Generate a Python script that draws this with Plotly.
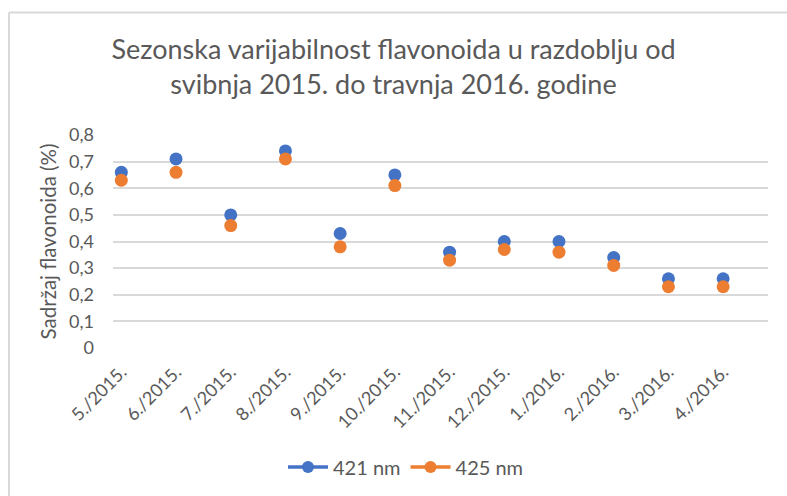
import plotly.graph_objects as go

months = ["5./2015.", "6./2015.", "7./2015.", "8./2015.", "9./2015.", "10./2015.",
          "11./2015.", "12./2015.", "1./2016.", "2./2016.", "3./2016.", "4./2016."]
nm421 = [0.66, 0.71, 0.50, 0.74, 0.43, 0.65, 0.36, 0.40, 0.40, 0.34, 0.26, 0.26]
nm425 = [0.63, 0.66, 0.46, 0.71, 0.38, 0.61, 0.33, 0.37, 0.36, 0.31, 0.23, 0.23]
y_ticks = [0, 0.1, 0.2, 0.3, 0.4, 0.5, 0.6, 0.7, 0.8]
y_tick_text = ["0", "0,1", "0,2", "0,3", "0,4", "0,5", "0,6", "0,7", "0,8"]

BLUE = "#4472C4"
ORANGE = "#ED7D31"
TXT = "#595959"
GRID = "#D9D9D9"
FONT = "Lato"

idx = list(range(len(months)))

fig = go.Figure()
for name, vals, col in [("421 nm", nm421, BLUE), ("425 nm", nm425, ORANGE)]:
    fig.add_trace(go.Scatter(x=idx, y=vals, mode="markers", name=name,
                             legendgroup=name, showlegend=False,
                             marker=dict(color=col, size=13, line=dict(width=0))))
for name, col in [("421 nm", BLUE), ("425 nm", ORANGE)]:
    fig.add_trace(go.Scatter(x=[None], y=[None], mode="lines+markers", name=name,
                             legendgroup=name, showlegend=True,
                             line=dict(color=col, width=3.5),
                             marker=dict(color=col, size=12)))

W, H = 787, 496
L, R, T, B = 113, 768, 135, 348

fig.update_layout(
    width=W, height=H,
    margin=dict(l=L, r=W - R, t=T, b=H - B, autoexpand=False),
    paper_bgcolor="white", plot_bgcolor="white",
    font=dict(family=FONT, color=TXT, size=18),
    title=dict(text="Sezonska varijabilnost flavonoida u razdoblju od<br>svibnja 2015. do travnja 2016. godine",
               x=0.5, xref="container", xanchor="center",
               y=1 - 59 / H, yref="container", yanchor="middle",
               font=dict(family=FONT, size=27, color=TXT)),
    xaxis=dict(range=[-0.152, 11.82], tickmode="array", tickvals=idx, ticktext=months,
               tickangle=-45, showgrid=False, zeroline=False, showline=False,
               ticks="", ticklabelstandoff=9, fixedrange=True,
               tickfont=dict(size=18, color=TXT)),
    yaxis=dict(range=[0, 0.8], tickmode="array", tickvals=y_ticks, ticktext=y_tick_text,
               showgrid=True, gridcolor=GRID, gridwidth=1.5, zeroline=False,
               showline=False, ticks="", ticklabelstandoff=18, fixedrange=True,
               tickfont=dict(size=18, color=TXT),
               title=dict(text="Sadržaj flavonoida (%)", font=dict(size=20.5, color=TXT),
                          standoff=6)),
    legend=dict(orientation="h", x=406 / W, xref="container", xanchor="center",
                y=1 - 467 / H, yref="container", yanchor="middle",
                font=dict(size=20, color=TXT), itemwidth=40, traceorder="normal"),
    showlegend=True,
)

def px_to_paper_x(px):
    return (px - L) / (R - L)

def px_to_paper_y(py):
    return (B - py) / (B - T)

# chart outer border (top and left edges visible)
fig.add_shape(type="line", xref="paper", yref="paper",
              x0=px_to_paper_x(9), x1=px_to_paper_x(800),
              y0=px_to_paper_y(12.5), y1=px_to_paper_y(12.5),
              line=dict(color=GRID, width=2), layer="below")
fig.add_shape(type="line", xref="paper", yref="paper",
              x0=px_to_paper_x(9), x1=px_to_paper_x(9),
              y0=px_to_paper_y(12.5), y1=px_to_paper_y(510),
              line=dict(color=GRID, width=2), layer="below")

fig.write_html("out.html", config={"displayModeBar": False},
               post_script="document.body.style.margin='0';")
